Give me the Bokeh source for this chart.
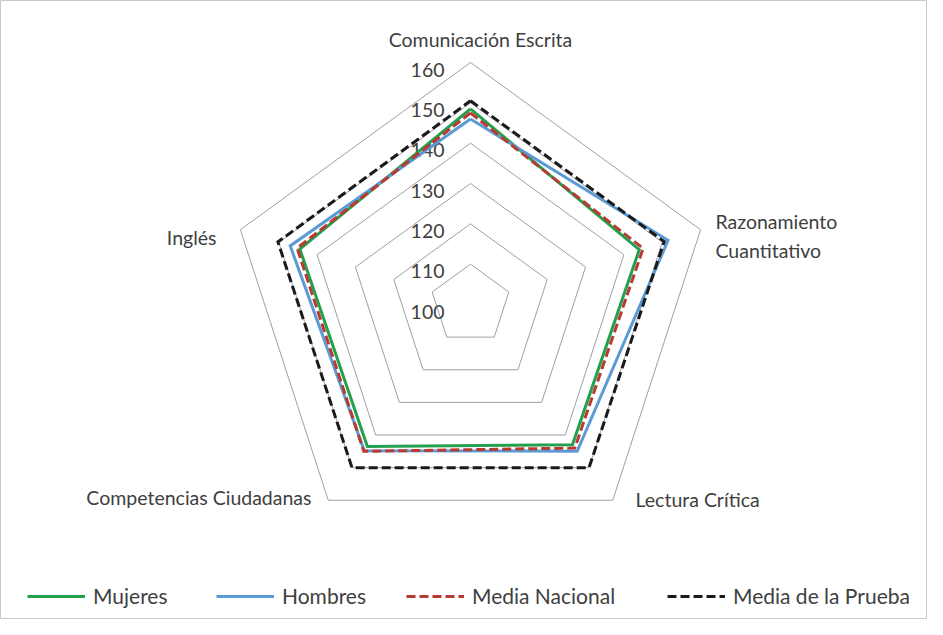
import numpy as np
from bokeh.plotting import figure
from bokeh.models import Legend, LegendItem, ColumnDataSource
from bokeh.core.properties import value
from bokeh.embed import file_html
from bokeh.resources import INLINE

# ---- data ----
categories = ["Comunicación Escrita", "Razonamiento\nCuantitativo", "Lectura Crítica",
              "Competencias Ciudadanas", "Inglés"]
mujeres = [148.5, 144.0, 143.0, 143.5, 144.5]
hombres = [146.0, 151.5, 145.0, 144.8, 147.0]
media_nacional = [147.5, 145.0, 144.0, 145.0, 145.2]
media_prueba = [150.5, 150.5, 150.0, 150.0, 150.2]
ticks = [100, 110, 120, 130, 140, 150, 160]
series_names = ["Mujeres", "Hombres", "Media Nacional", "Media de la Prueba"]

# ---- style / layout ----
FONT = "Lato"
FS = "19.5px"
LFS = "21px"
TXT = "#404040"
W, H = 927, 619
K = 4.033           # pixels per unit
CX, CY = 470, 304   # center in figure pixels (from left, from top)
vmin = ticks[0]

n = len(categories)
ang = np.pi / 2 - 2 * np.pi * np.arange(n) / n


def polar(vals):
    r = np.asarray(vals, dtype=float) - vmin
    xs = r * np.cos(ang)
    ys = r * np.sin(ang)
    return list(np.append(xs, xs[0])), list(np.append(ys, ys[0]))


p = figure(width=W, height=H, output_backend="svg", toolbar_location=None,
           x_range=(-CX / K, (W - CX) / K), y_range=(-(H - CY) / K, CY / K),
           min_border=0, x_axis_type=None, y_axis_type=None)
p.grid.visible = False
p.outline_line_color = "#c8c8c8"
p.outline_line_width = 1
p.background_fill_color = "white"

# rings
for t in ticks[1:]:
    xs, ys = polar([t] * n)
    p.line(xs, ys, line_color="#a0a0a0", line_width=1)

# tick labels
tick_src = ColumnDataSource(dict(
    x=[-26 / K] * len(ticks),
    y=[(t - vmin) - 7 / K for t in ticks],
    text=[str(t) for t in ticks]))
p.text(x="x", y="y", text="text", source=tick_src, text_align="right",
       text_baseline="middle", text_font=value(FONT), text_font_size=FS,
       text_color=TXT)

# category labels (pixel offsets from center)
lab_dx = [10, 245, 165, -159, -254]
lab_dy = [265, 68.5, -195, -193, 67]
lab_align = ["center", "left", "left", "right", "right"]
cat_src = ColumnDataSource(dict(
    x=[d / K for d in lab_dx], y=[d / K for d in lab_dy],
    text=categories, align=lab_align))
p.text(x="x", y="y", text="text", source=cat_src, text_align="align",
       text_baseline="middle", text_font=value(FONT), text_font_size=FS,
       text_color=TXT, text_line_height=1.28)

colors = ["#23a04d", "#5b9bd5", "#b83b32", "#1a1a1a"]
dashes = ["solid", "solid", "9 4", "9 4"]
renderers = []
for vals, c, d in zip([mujeres, hombres, media_nacional, media_prueba], colors, dashes):
    xs, ys = polar(vals)
    r = p.line(xs, ys, line_color=c, line_width=3, line_dash=d, line_join="miter")
    renderers.append(r)

leg_x = [27, 216, 406, 667]
for name, r, lx in zip(series_names, renderers, leg_x):
    lg = Legend(items=[LegendItem(label=name, renderers=[r])], location=(lx, 11),
                orientation="horizontal", padding=0, margin=0, spacing=0,
                glyph_width=58, glyph_height=20, label_height=20,
                label_standoff=8, border_line_alpha=0, background_fill_alpha=0,
                label_text_font=FONT, label_text_font_size=LFS,
                label_text_color=TXT, label_text_baseline="middle")
    p.add_layout(lg)

open("out.html", "w").write(file_html(p, INLINE))
